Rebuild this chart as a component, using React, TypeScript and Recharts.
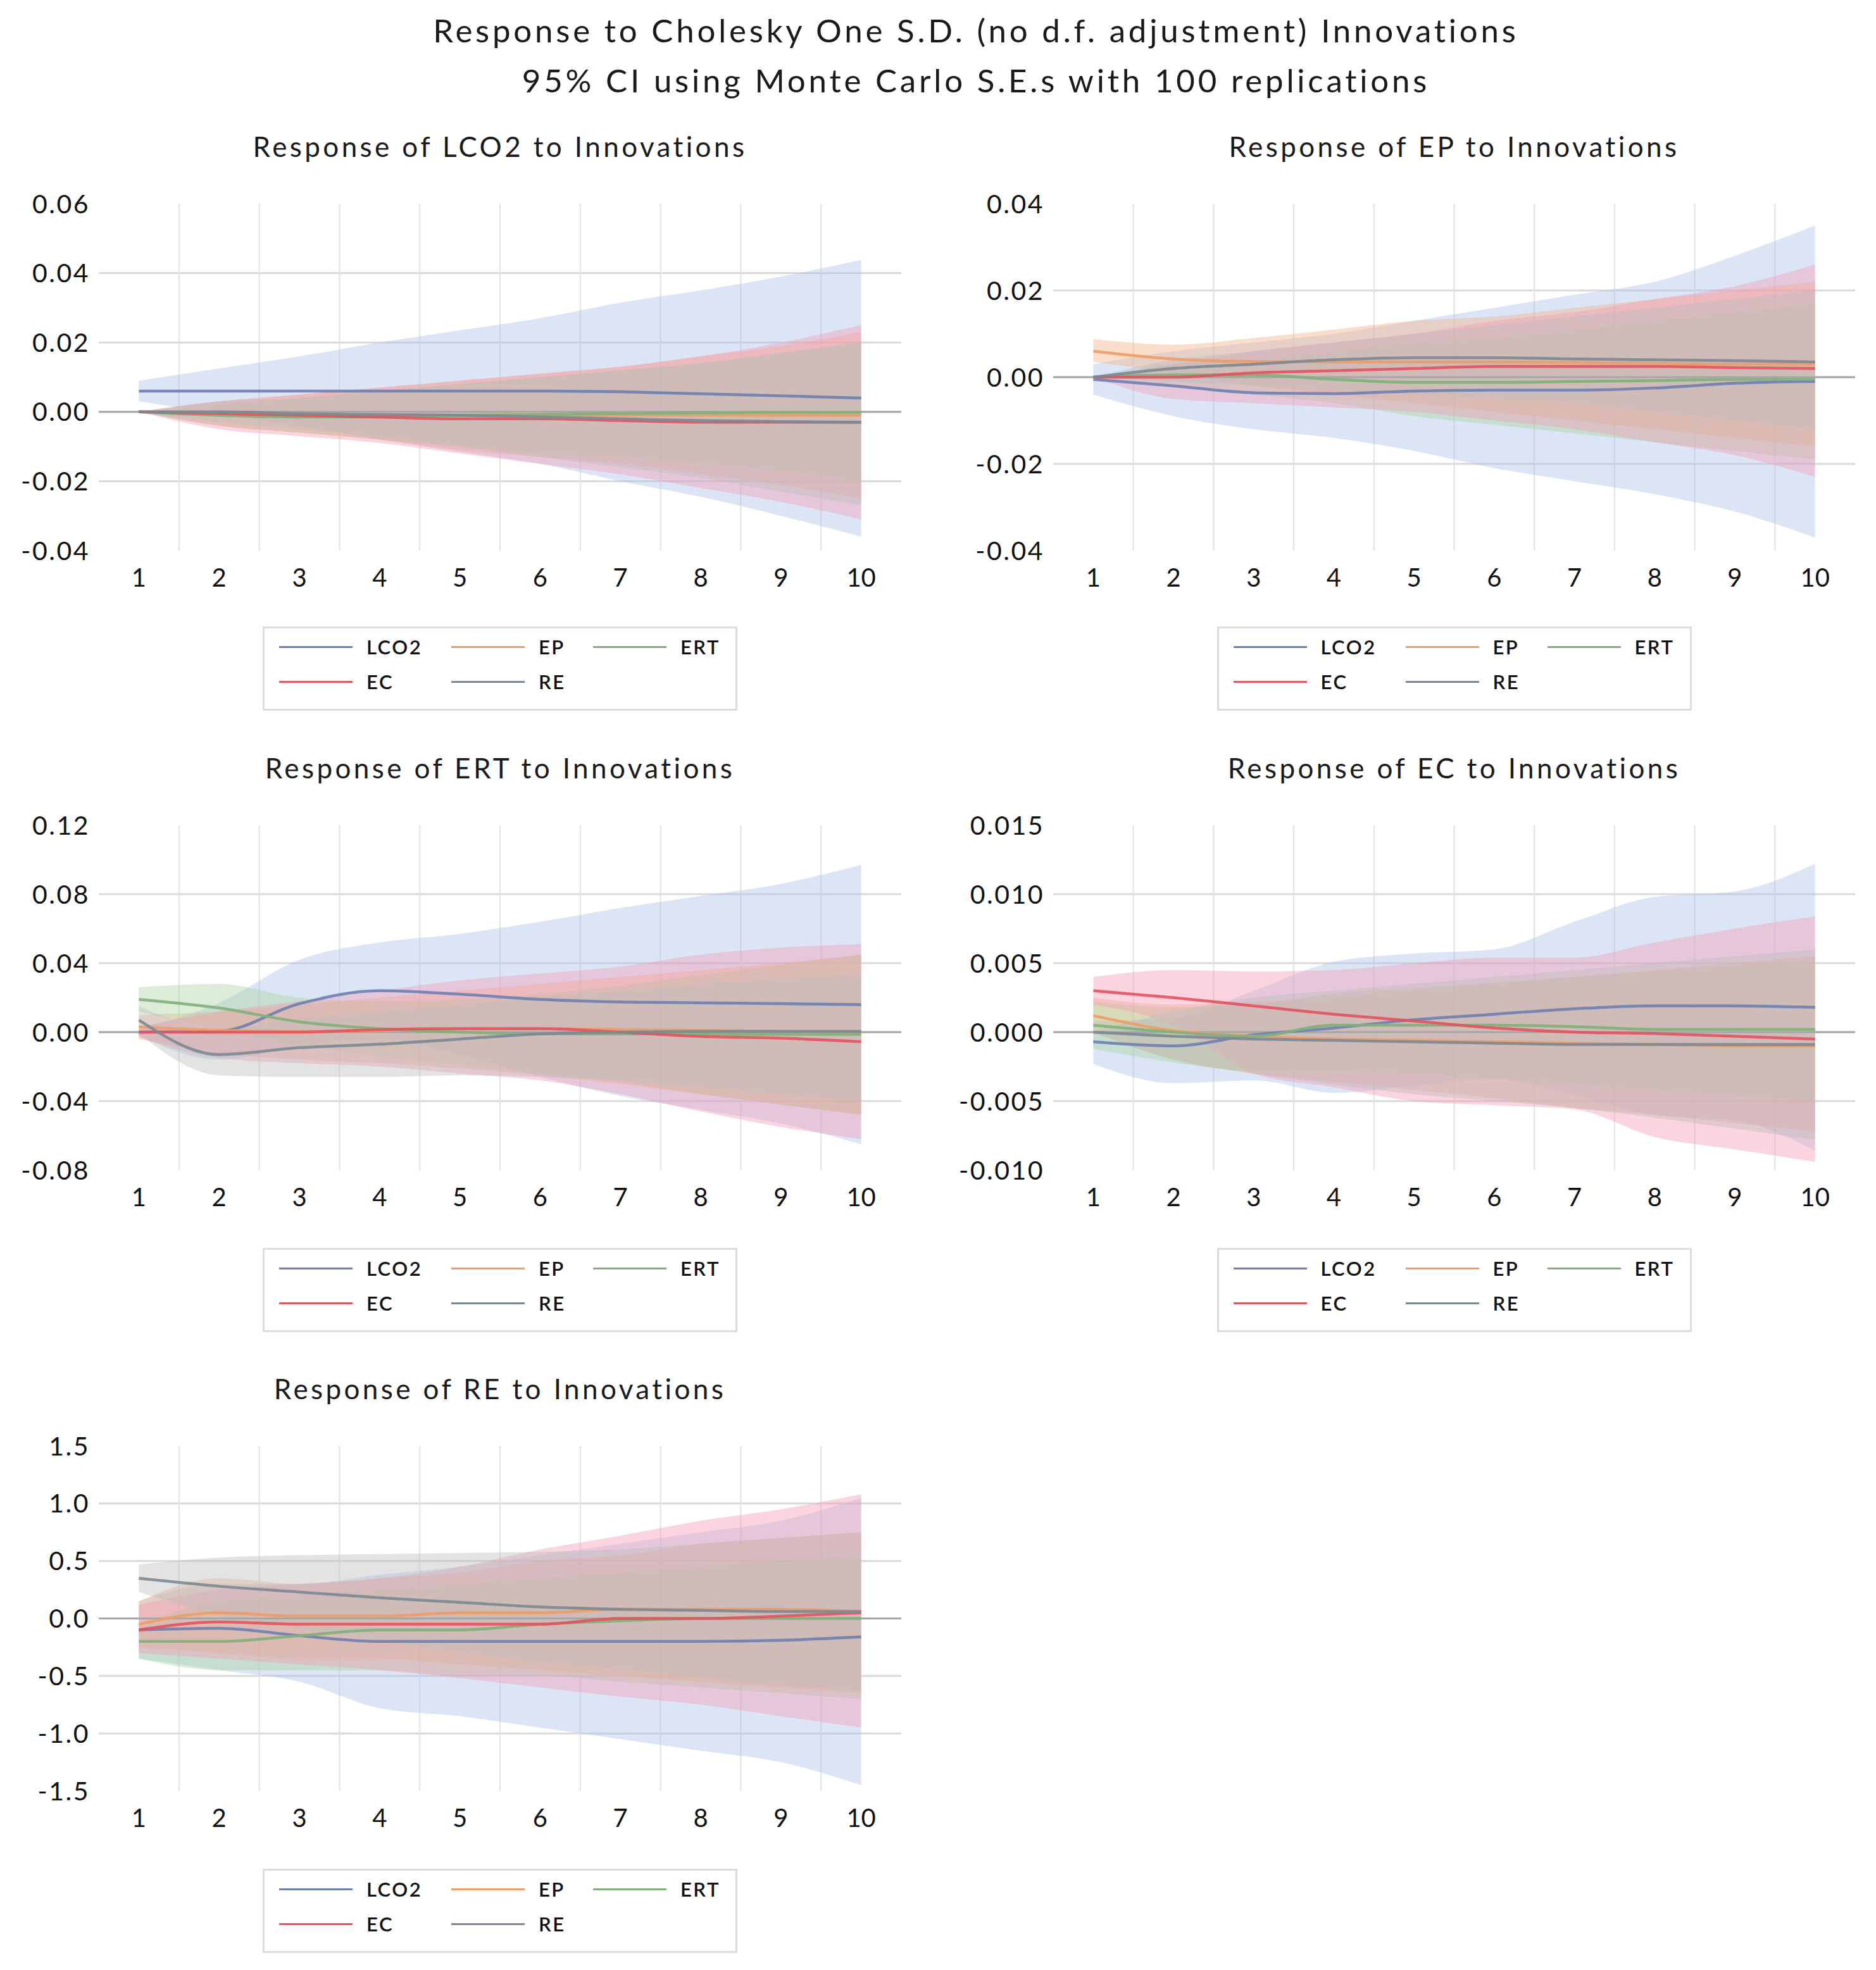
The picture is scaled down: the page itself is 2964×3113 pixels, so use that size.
import React from "react";
import {
  ComposedChart,
  Line,
  Area,
  XAxis,
  YAxis,
  CartesianGrid,
  ReferenceLine,
} from "recharts";

const periods = [1, 2, 3, 4, 5, 6, 7, 8, 9, 10];
const shocks = ["LCO2", "EP", "ERT", "EC", "RE"];

const lineColors: Record<string, string> = {
  LCO2: "#6d7fb2",
  EP: "#ee9c66",
  ERT: "#7fb07a",
  EC: "#e4525e",
  RE: "#7b8894",
};
const bandColors: Record<string, string> = {
  LCO2: "#a9c2ea",
  EP: "#f4b183",
  ERT: "#a9d5a0",
  EC: "#f29cb2",
  RE: "#bdbdbd",
};

// Response of LCO2
const meanLCO2 = {
  LCO2: [0.006, 0.006, 0.006, 0.006, 0.006, 0.006, 0.0058, 0.0052, 0.0046, 0.004],
  EP: [0, -0.0005, -0.0008, -0.001, -0.001, -0.001, -0.001, -0.001, -0.001, -0.001],
  ERT: [0, -0.001, -0.0015, -0.0015, -0.001, -0.0008, -0.0005, -0.0003, -0.0002, -0.0002],
  EC: [0, -0.0005, -0.001, -0.0015, -0.002, -0.002, -0.0025, -0.003, -0.003, -0.003],
  RE: [0, 0, -0.0005, -0.0008, -0.001, -0.0015, -0.002, -0.0025, -0.0028, -0.003],
};
const lowLCO2 = {
  LCO2: [0.003, -0.0005, -0.004, -0.008, -0.0115, -0.015, -0.02, -0.0245, -0.03, -0.036],
  EP: [0, -0.004, -0.006, -0.008, -0.011, -0.013, -0.015, -0.018, -0.021, -0.025],
  ERT: [0, -0.004, -0.006, -0.008, -0.01, -0.012, -0.013, -0.015, -0.017, -0.02],
  EC: [0, -0.005, -0.007, -0.009, -0.012, -0.015, -0.018, -0.022, -0.026, -0.031],
  RE: [0, -0.003, -0.005, -0.007, -0.01, -0.013, -0.016, -0.019, -0.023, -0.027],
};
const highLCO2 = {
  LCO2: [0.009, 0.0125, 0.016, 0.02, 0.0235, 0.027, 0.0315, 0.035, 0.039, 0.0438],
  EP: [0, 0.003, 0.005, 0.007, 0.009, 0.011, 0.013, 0.016, 0.019, 0.023],
  ERT: [0, 0.002, 0.004, 0.006, 0.008, 0.01, 0.012, 0.014, 0.017, 0.02],
  EC: [0, 0.003, 0.005, 0.007, 0.009, 0.011, 0.013, 0.016, 0.02, 0.025],
  RE: [0, 0.003, 0.004, 0.006, 0.008, 0.01, 0.012, 0.014, 0.017, 0.02],
};

// Response of EP
const meanEP = {
  LCO2: [-0.0005, -0.002, -0.0036, -0.0038, -0.0032, -0.003, -0.003, -0.0025, -0.0014, -0.001],
  EP: [0.006, 0.0042, 0.0036, 0.0035, 0.0035, 0.0035, 0.0034, 0.0032, 0.003, 0.003],
  ERT: [0, 0.0005, 0.0005, -0.0005, -0.0012, -0.0012, -0.001, -0.0008, -0.0005, -0.0005],
  EC: [0, 0, 0.001, 0.0015, 0.002, 0.0025, 0.0025, 0.0025, 0.0022, 0.002],
  RE: [0, 0.002, 0.003, 0.004, 0.0045, 0.0045, 0.0042, 0.004, 0.0038, 0.0035],
};
const lowEP = {
  LCO2: [-0.004, -0.009, -0.012, -0.014, -0.017, -0.021, -0.024, -0.027, -0.031, -0.037],
  EP: [0.0035, 0.001, -0.002, -0.004, -0.006, -0.008, -0.01, -0.012, -0.014, -0.016],
  ERT: [0, -0.002, -0.004, -0.006, -0.009, -0.011, -0.013, -0.015, -0.017, -0.019],
  EC: [0, -0.005, -0.006, -0.007, -0.008, -0.01, -0.012, -0.015, -0.018, -0.023],
  RE: [0, -0.001, -0.002, -0.003, -0.004, -0.005, -0.006, -0.008, -0.01, -0.012],
};
const highEP = {
  LCO2: [0.003, 0.006, 0.008, 0.01, 0.013, 0.016, 0.019, 0.022, 0.028, 0.035],
  EP: [0.0088, 0.0075, 0.009, 0.011, 0.013, 0.014, 0.016, 0.018, 0.02, 0.022],
  ERT: [0, 0.003, 0.004, 0.006, 0.008, 0.009, 0.011, 0.013, 0.015, 0.017],
  EC: [0, 0.003, 0.006, 0.008, 0.01, 0.013, 0.015, 0.018, 0.021, 0.026],
  RE: [0, 0.004, 0.006, 0.008, 0.01, 0.012, 0.014, 0.016, 0.018, 0.02],
};

// Response of ERT
const meanERT = {
  LCO2: [0, 0.0005, 0.0165, 0.024, 0.022, 0.019, 0.0175, 0.017, 0.0165, 0.016],
  EP: [0.003, 0.001, 0.0005, 0.001, 0.002, 0.002, 0.0015, 0.001, 0.0005, 0],
  ERT: [0.019, 0.014, 0.006, 0.002, 0, -0.001, -0.001, -0.0012, -0.0013, -0.0013],
  EC: [0, 0, 0, 0.0015, 0.002, 0.002, 0, -0.0025, -0.0035, -0.0055],
  RE: [0.007, -0.013, -0.009, -0.007, -0.004, -0.001, 0, 0.0005, 0.0005, 0.0005],
};
const lowERT = {
  LCO2: [-0.002, -0.016, -0.008, -0.004, -0.013, -0.026, -0.037, -0.045, -0.053, -0.065],
  EP: [-0.004, -0.012, -0.016, -0.018, -0.021, -0.025, -0.03, -0.036, -0.042, -0.048],
  ERT: [0.012, 0.001, -0.008, -0.014, -0.019, -0.024, -0.029, -0.036, -0.042, -0.048],
  EC: [-0.003, -0.015, -0.018, -0.02, -0.024, -0.028, -0.036, -0.046, -0.055, -0.062],
  RE: [-0.001, -0.025, -0.026, -0.026, -0.025, -0.026, -0.028, -0.032, -0.036, -0.04],
};
const highERT = {
  LCO2: [0.002, 0.017, 0.042, 0.052, 0.057, 0.064, 0.072, 0.079, 0.086, 0.097],
  EP: [0.01, 0.012, 0.016, 0.02, 0.024, 0.028, 0.032, 0.036, 0.04, 0.045],
  ERT: [0.026, 0.028, 0.02, 0.018, 0.019, 0.022, 0.027, 0.033, 0.039, 0.045],
  EC: [0.003, 0.012, 0.018, 0.024, 0.03, 0.034, 0.038, 0.045, 0.049, 0.051],
  RE: [0.015, 0.002, 0.008, 0.012, 0.016, 0.02, 0.024, 0.028, 0.031, 0.034],
};

// Response of EC
const meanEC = {
  LCO2: [-0.0007, -0.001, -0.0002, 0.0003, 0.0009, 0.0013, 0.0017, 0.0019, 0.0019, 0.0018],
  EP: [0.0012, 0.0001, -0.0003, -0.0005, -0.0006, -0.0007, -0.0008, -0.0009, -0.001, -0.001],
  ERT: [0.0005, 0, -0.0003, 0.0005, 0.0005, 0.0005, 0.0004, 0.0002, 0.0002, 0.0002],
  EC: [0.003, 0.0025, 0.0019, 0.0013, 0.0008, 0.0003, 0, -0.0001, -0.0003, -0.0005],
  RE: [0, -0.0003, -0.0005, -0.0006, -0.0007, -0.0008, -0.0009, -0.0009, -0.0009, -0.0009],
};
const lowEC = {
  LCO2: [-0.0023, -0.0037, -0.0035, -0.0044, -0.0039, -0.0034, -0.0046, -0.006, -0.0064, -0.0086],
  EP: [0, -0.002, -0.003, -0.0036, -0.0042, -0.0048, -0.0055, -0.006, -0.0066, -0.0072],
  ERT: [-0.0012, -0.0022, -0.0028, -0.0028, -0.003, -0.0034, -0.0038, -0.0042, -0.0046, -0.005],
  EC: [0.002, 0.0005, -0.003, -0.004, -0.005, -0.0053, -0.0056, -0.0076, -0.0085, -0.0094],
  RE: [0, -0.002, -0.003, -0.0038, -0.0045, -0.005, -0.0055, -0.0062, -0.007, -0.0078],
};
const highEC = {
  LCO2: [0.0008, 0.001, 0.003, 0.0051, 0.0057, 0.006, 0.008, 0.0098, 0.0102, 0.0122],
  EP: [0.0025, 0.002, 0.0022, 0.0025, 0.003, 0.0035, 0.004, 0.0045, 0.005, 0.0055],
  ERT: [0.0022, 0.0018, 0.002, 0.0028, 0.0032, 0.0036, 0.004, 0.0044, 0.0048, 0.0052],
  EC: [0.004, 0.0045, 0.0044, 0.0045, 0.005, 0.0054, 0.0054, 0.0065, 0.0075, 0.0084],
  RE: [0, 0.0015, 0.0025, 0.003, 0.0035, 0.004, 0.0045, 0.005, 0.0055, 0.006],
};

// Response of RE
const meanRE = {
  LCO2: [-0.1, -0.085, -0.15, -0.2, -0.2, -0.2, -0.2, -0.2, -0.19, -0.16],
  EP: [-0.05, 0.05, 0.02, 0.02, 0.05, 0.05, 0.08, 0.08, 0.08, 0.06],
  ERT: [-0.2, -0.2, -0.15, -0.1, -0.1, -0.05, -0.02, 0, 0, 0],
  EC: [-0.1, -0.03, -0.05, -0.05, -0.05, -0.05, 0, 0, 0.02, 0.05],
  RE: [0.35, 0.28, 0.23, 0.18, 0.14, 0.1, 0.08, 0.07, 0.06, 0.06],
};
const lowRE = {
  LCO2: [-0.35, -0.45, -0.55, -0.78, -0.85, -0.95, -1.05, -1.15, -1.25, -1.45],
  EP: [-0.25, -0.3, -0.35, -0.35, -0.4, -0.45, -0.5, -0.55, -0.6, -0.65],
  ERT: [-0.35, -0.45, -0.45, -0.45, -0.5, -0.5, -0.55, -0.6, -0.65, -0.7],
  EC: [-0.3, -0.35, -0.4, -0.45, -0.52, -0.6, -0.68, -0.75, -0.85, -0.95],
  RE: [0.23, 0.03, -0.09, -0.2, -0.29, -0.38, -0.44, -0.51, -0.58, -0.63],
};
const highRE = {
  LCO2: [0.15, 0.3, 0.3, 0.38, 0.45, 0.55, 0.65, 0.75, 0.85, 1.05],
  EP: [0.15, 0.35, 0.3, 0.35, 0.4, 0.5, 0.55, 0.65, 0.7, 0.75],
  ERT: [-0.05, 0.15, 0.2, 0.25, 0.3, 0.35, 0.4, 0.45, 0.5, 0.55],
  EC: [0.12, 0.25, 0.3, 0.35, 0.45, 0.6, 0.72, 0.85, 0.95, 1.08],
  RE: [0.47, 0.53, 0.55, 0.56, 0.57, 0.58, 0.6, 0.65, 0.7, 0.75],
};

const ticksLCO2 = [-0.04, -0.02, 0, 0.02, 0.04, 0.06];
const ticksEP = [-0.04, -0.02, 0, 0.02, 0.04];
const ticksERT = [-0.08, -0.04, 0, 0.04, 0.08, 0.12];
const ticksEC = [-0.01, -0.005, 0, 0.005, 0.01, 0.015];
const ticksRE = [-1.5, -1, -0.5, 0, 0.5, 1, 1.5];
const gridX = [1.5, 2.5, 3.5, 4.5, 5.5, 6.5, 7.5, 8.5, 9.5];

type Series = Record<string, number[]>;

const FONT = "Lato, 'Open Sans', sans-serif";
const TOP_PAD = 40;
const X_AXIS_H = 80;
// legend column starts (line start) inside the legend box
const legendCols = [26, 298, 522];

function buildRows(mean: Series, low: Series, high: Series) {
  return periods.map((p, i) => {
    const row: Record<string, any> = { period: p };
    shocks.forEach((s) => {
      row[s] = mean[s][i];
      row[s + "_band"] = [low[s][i], high[s][i]];
    });
    return row;
  });
}

function LegendBox({ left, top }: { left: number; top: number }) {
  return (
    <div
      style={{
        position: "absolute",
        left,
        top,
        width: 750,
        height: 133,
        boxSizing: "border-box",
        border: "3px solid #dcdcdc",
        fontFamily: FONT,
        fontSize: 31,
        fontWeight: 600,
        color: "#111",
      }}
    >
      {shocks.map((s, i) => (
        <div
          key={s}
          style={{
            position: "absolute",
            left: legendCols[i % 3] - 3,
            top: i < 3 ? 11 : 66,
            display: "flex",
            alignItems: "center",
            height: 36,
          }}
        >
          <div style={{ width: 116, height: 3, background: lineColors[s] }} />
          <span style={{ marginLeft: 22, letterSpacing: 2.5 }}>{s}</span>
        </div>
      ))}
    </div>
  );
}

interface PanelProps {
  title: string;
  mean: Series;
  low: Series;
  high: Series;
  ticks: number[];
  decimals: number;
  col: number;
  plotTop: number;
  plotH: number;
}

function Panel({ title, mean, low, high, ticks, decimals, col, plotTop, plotH }: PanelProps) {
  const data = buildRows(mean, low, high);
  const chartLeft = col === 0 ? 0 : 1482;
  const chartW = 1482;
  const chartH = TOP_PAD + plotH + X_AXIS_H + 10;
  const plotLeft = col === 0 ? 156 : 1664;
  const plotRight = col === 0 ? 1424 : 2931;
  const yW = 150;
  const margin = {
    top: TOP_PAD,
    left: plotLeft - chartLeft - yW,
    right: chartLeft + chartW - plotRight,
    bottom: 10,
  };
  const plotCenter = (plotLeft + plotRight) / 2;
  const inner = ticks.slice(1, -1);
  return (
    <>
      <div
        style={{
          position: "absolute",
          left: plotCenter - 700,
          width: 1400,
          top: plotTop - 91 - 28,
          textAlign: "center",
          fontFamily: FONT,
          fontSize: 44,
          letterSpacing: 4.4,
          color: "#1a1a1a",
          lineHeight: "56px",
        }}
      >
        {title}
      </div>
      <div style={{ position: "absolute", left: chartLeft, top: plotTop - TOP_PAD }}>
        <ComposedChart width={chartW} height={chartH} data={data} margin={margin}>
          <CartesianGrid
            vertical={false}
            horizontalValues={inner}
            stroke="#d9d9d9"
            strokeWidth={3}
          />
          <CartesianGrid
            horizontal={false}
            verticalValues={gridX}
            stroke="#e2e2e2"
            strokeWidth={2}
          />
          <XAxis
            dataKey="period"
            type="number"
            domain={[0.5, 10.5]}
            ticks={periods}
            axisLine={false}
            tickLine={false}
            tickSize={0}
            tickMargin={29}
            height={X_AXIS_H}
            tick={{ fill: "#111", fontSize: 40, fontFamily: FONT }}
          />
          <YAxis
            type="number"
            domain={[ticks[0], ticks[ticks.length - 1]]}
            ticks={ticks}
            width={yW}
            axisLine={false}
            tickLine={false}
            tickSize={0}
            tickMargin={14}
            interval={0}
            tickFormatter={(v: number) => v.toFixed(decimals)}
            tick={{ fill: "#111", fontSize: 41, fontFamily: FONT, letterSpacing: 2.5 }}
          />
          <ReferenceLine y={0} stroke="#a6a6a6" strokeWidth={3} />
          {shocks.map((s) => (
            <Area
              key={s + "_band"}
              dataKey={s + "_band"}
              type="monotone"
              stroke="none"
              fill={bandColors[s]}
              fillOpacity={0.42}
              isAnimationActive={false}
              activeDot={false}
            />
          ))}
          {shocks.map((s) => (
            <Line
              key={s}
              dataKey={s}
              type="monotone"
              stroke={lineColors[s]}
              strokeWidth={4.5}
              strokeOpacity={0.9}
              dot={false}
              activeDot={false}
              isAnimationActive={false}
            />
          ))}
        </ComposedChart>
      </div>
      <LegendBox left={plotCenter - 375} top={plotTop + 668} />
    </>
  );
}

export default function App() {
  return (
    <div
      style={{
        position: "absolute",
        left: 0,
        top: 0,
        width: 2964,
        height: 3113,
        background: "#fff",
        fontFamily: FONT,
      }}
    >
      <div
        style={{
          position: "absolute",
          left: 0,
          width: 3084,
          top: 8,
          textAlign: "center",
          fontSize: 51,
          letterSpacing: 4.8,
          lineHeight: "79px",
          color: "#1a1a1a",
        }}
      >
        <div>Response to Cholesky One S.D. (no d.f. adjustment) Innovations</div>
        <div>95% CI using Monte Carlo S.E.s with 100 replications</div>
      </div>
      <Panel title="Response of LCO2 to Innovations" mean={meanLCO2} low={lowLCO2} high={highLCO2} ticks={ticksLCO2} decimals={2} col={0} plotTop={322} plotH={548} />
      <Panel title="Response of EP to Innovations" mean={meanEP} low={lowEP} high={highEP} ticks={ticksEP} decimals={2} col={1} plotTop={322} plotH={548} />
      <Panel title="Response of ERT to Innovations" mean={meanERT} low={lowERT} high={highERT} ticks={ticksERT} decimals={2} col={0} plotTop={1304} plotH={545} />
      <Panel title="Response of EC to Innovations" mean={meanEC} low={lowEC} high={highEC} ticks={ticksEC} decimals={3} col={1} plotTop={1304} plotH={545} />
      <Panel title="Response of RE to Innovations" mean={meanRE} low={lowRE} high={highRE} ticks={ticksRE} decimals={1} col={0} plotTop={2285} plotH={545} />
    </div>
  );
}
